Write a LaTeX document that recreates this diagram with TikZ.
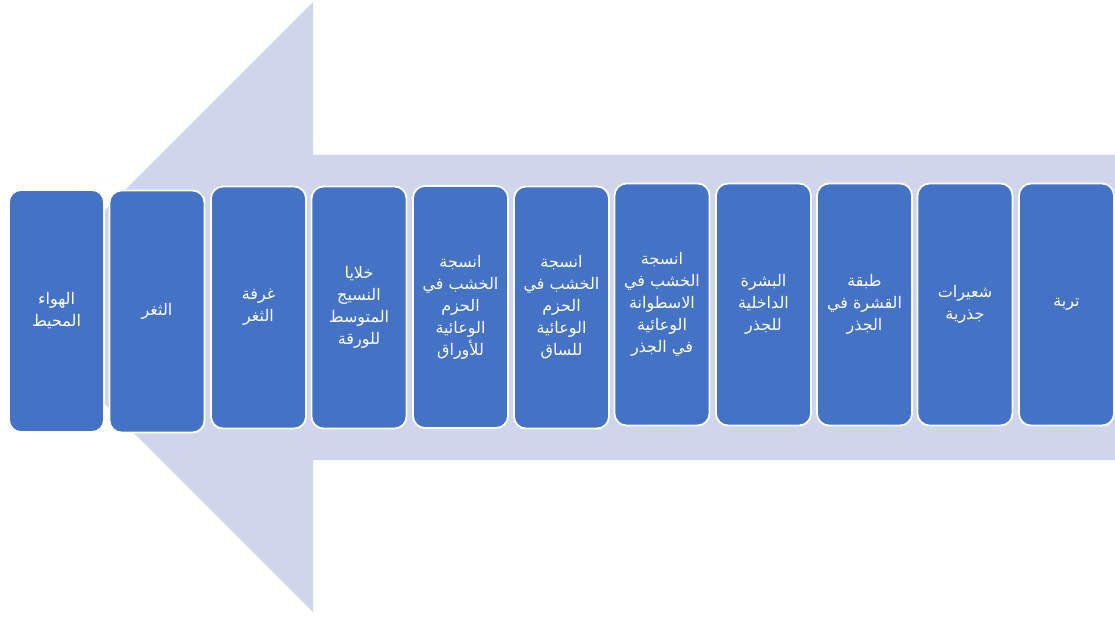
\documentclass[tikz,border=0pt]{standalone}
\usepackage{fontspec}
\newfontfamily\arabicfont[Script=Arabic]{DejaVu Sans}
\TeXXeTstate=1
\newcommand{\rlline}[1]{\beginR #1\endR}
\definecolor{arrowfill}{HTML}{CFD5EA}
\definecolor{boxfill}{HTML}{4472C4}
\tikzset{
  stagebox/.style={draw=white, line width=1.8pt, fill=boxfill, rounded corners=12pt,
    minimum width=95pt, minimum height=242pt, inner sep=0pt, align=center,
    text=white, font=\arabicfont\fontsize{16pt}{22pt}\selectfont},
  bigarrow/.style={fill=arrowfill, draw=none}
}
\begin{document}
\begin{tikzpicture}[x=1pt,y=-1pt]
\useasboundingbox (0,0) rectangle (1115,617);
\fill[bigarrow] (8,307) -- (313,2) -- (313,155) -- (1115,155) -- (1115,460) -- (313,460) -- (313,612) -- cycle;
\node[stagebox] (b1) at (56.5,311) {\rlline{الهواء}\\\rlline{المحيط}};
\node[stagebox] (b2) at (157,311.5) {\rlline{الثغر}};
\node[stagebox] (b3) at (258.5,307.5) {\rlline{غرفة}\\\rlline{الثغر}};
\node[stagebox] (b4) at (359,307.5) {\rlline{خلايا}\\\rlline{النسيج}\\\rlline{المتوسط}\\\rlline{للورقة}};
\node[stagebox] (b5) at (460.5,307) {\rlline{انسجة}\\\rlline{الخشب في}\\\rlline{الحزم}\\\rlline{الوعائية}\\\rlline{للأوراق}};
\node[stagebox] (b6) at (561.5,307.5) {\rlline{انسجة}\\\rlline{الخشب في}\\\rlline{الحزم}\\\rlline{الوعائية}\\\rlline{للساق}};
\node[stagebox] (b7) at (662,304.5) {\rlline{انسجة}\\\rlline{الخشب في}\\\rlline{الاسطوانة}\\\rlline{الوعائية}\\\rlline{في الجذر}};
\node[stagebox] (b8) at (763.5,304.5) {\rlline{البشرة}\\\rlline{الداخلية}\\\rlline{للجذر}};
\node[stagebox] (b9) at (864.5,304.5) {\rlline{طبقة}\\\rlline{القشرة في}\\\rlline{الجذر}};
\node[stagebox] (b10) at (965,304.5) {\rlline{شعيرات}\\\rlline{جذرية}};
\node[stagebox] (b11) at (1066.5,304.5) {\rlline{تربة}};
\end{tikzpicture}
\end{document}
